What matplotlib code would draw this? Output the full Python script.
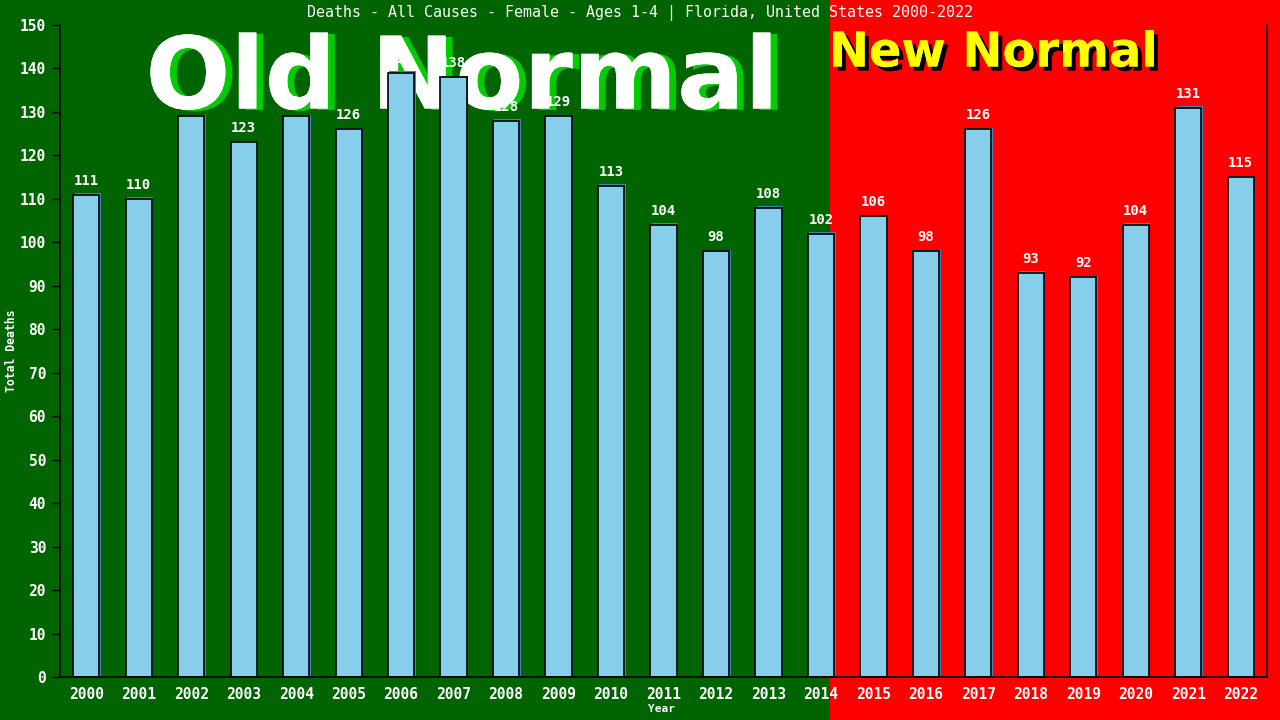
import matplotlib
matplotlib.use("Agg")
import matplotlib.pyplot as plt
import matplotlib.patheffects as pe
from matplotlib.patches import Rectangle
from matplotlib.transforms import offset_copy

years = [str(y) for y in range(2000, 2023)]
deaths = [111, 110, 129, 123, 129, 126, 139, 138, 128, 129, 113, 104, 98, 108,
          102, 106, 98, 126, 93, 92, 104, 131, 115]
title = "Deaths - All Causes - Female - Ages 1-4 | Florida, United States 2000-2022"

GREEN = "#006400"
RED = "#ff0000"
MONO = "DejaVu Sans Mono"

fig = plt.figure(figsize=(12.8, 7.2), dpi=100)
fig.patch.set_facecolor(GREEN)
# right-hand "new normal" band, kept underneath the axes
fig.patches.append(Rectangle((830 / 1280, 0), 1 - 830 / 1280, 1,
                             transform=fig.transFigure, facecolor=RED,
                             edgecolor="none", zorder=-5))

ax = fig.add_axes([60 / 1280, 43 / 720, 1207 / 1280, 652 / 720])
ax.set_facecolor("none")
ax.set_xlim(-0.5, len(years) - 0.5)
ax.set_ylim(0, 150)

# era headlines, drawn beneath the bars
ax.text(462 / 1280, 1 - 81 / 720, "Old Normal", ha="center", va="center",
        transform=fig.transFigure, clip_on=False,
        color="white", fontsize=72, fontweight="bold", family="DejaVu Sans",
        zorder=1,
        path_effects=[pe.withSimplePatchShadow(offset=(5, -1),
                                               shadow_rgbFace="#00cc00",
                                               alpha=1.0),
                      pe.Normal()])
ax.text(993 / 1280, 1 - 53 / 720, "New Normal", ha="center", va="center",
        transform=fig.transFigure, clip_on=False,
        color="#ffff00", fontsize=34.5, fontweight="bold",
        family="DejaVu Sans", zorder=1,
        path_effects=[pe.withSimplePatchShadow(offset=(3, -3),
                                               shadow_rgbFace="black",
                                               alpha=1.0),
                      pe.Normal()])

x = list(range(len(years)))
# offset shadow bars, then the main bars
shadow_tr = offset_copy(ax.transData, fig=fig, x=1.5, y=1.5, units="dots")
ax.bar(x, deaths, width=0.5, color="#4682b4", edgecolor="none",
       transform=shadow_tr, zorder=3)
ax.bar(x, deaths, width=0.5, color="#87ceeb", edgecolor="black",
       linewidth=1.2, zorder=4)

for xi, v in zip(x, deaths):
    ax.annotate(str(v), (xi, v), xytext=(0, 5), textcoords="offset points",
                ha="center", va="bottom", color="white", fontsize=10,
                fontweight="bold", family=MONO, zorder=5)

ax.set_xticks(x)
ax.set_xticklabels(years)
ax.set_yticks(range(0, 151, 10))
ax.tick_params(axis="x", length=0, pad=7, colors="white", labelsize=10.5)
ax.tick_params(axis="y", length=6, width=1, color="black", labelcolor="white",
               labelsize=10.5, pad=4)
for lbl in ax.get_xticklabels() + ax.get_yticklabels():
    lbl.set_family(MONO)
    lbl.set_fontweight("bold")

for side in ("left", "bottom", "right"):
    ax.spines[side].set_color("black")
    ax.spines[side].set_linewidth(1.2)
    ax.spines[side].set_zorder(6)
ax.spines["top"].set_visible(False)

ax.set_xlabel("Year", color="white", fontsize=8, fontweight="bold",
              family=MONO)
ax.set_ylabel("Total Deaths", color="white", fontsize=8.3, fontweight="bold",
              family=MONO)
ax.xaxis.set_label_coords((661 - 60) / 1207, -27 / 652)
ax.yaxis.set_label_coords((18 - 60) / 1207, 0.5)

fig.text(640 / 1280, 1 - 13 / 720, title, ha="center", va="center",
         color="white", fontsize=10.8, family=MONO)

fig.savefig("out.png", dpi=100, facecolor=fig.get_facecolor())
